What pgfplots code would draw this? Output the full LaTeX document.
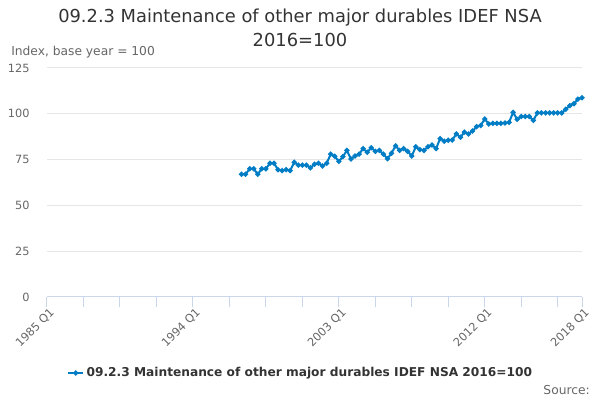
\documentclass[border=0pt]{standalone}
\usepackage{pgfplots}
\pgfplotsset{compat=1.18}
\usepackage{fontspec}
\setmainfont{DejaVu Sans}
\definecolor{linecol}{RGB}{0,125,196}
\definecolor{gridcol}{RGB}{230,230,230}
\definecolor{axcol}{RGB}{204,214,235}
\definecolor{txt}{RGB}{51,51,51}
\definecolor{lbl}{RGB}{102,102,102}
\pgfplotstableread{
x y
48 67
49 67
50 70
51 70
52 67
53 70
54 70
55 73
56 73
57 69.5
58 69
59 69.5
60 69
61 73.5
62 72
63 72
64 72
65 70.5
66 72.5
67 73
68 71.5
69 73
70 78
71 76.8
72 74
73 76.6
74 80
75 75.3
76 77
77 78
78 81
79 79
80 81.5
81 79.5
82 80
83 78
84 75.5
85 78.5
86 82.5
87 80
88 81
89 79.5
90 77
91 82
92 80.5
93 80
94 82
95 83
96 81
97 86.5
98 85
99 85.5
100 85.7
101 89
102 87.2
103 90
104 89
105 90.6
106 93
107 93.6
108 97.2
109 94.4
110 94.8
111 94.8
112 94.8
113 95
114 95.3
115 100.8
116 97
117 98.5
118 98.5
119 98.5
120 96.4
121 100.5
122 100.5
123 100.5
124 100.5
125 100.5
126 100.5
127 100.5
128 102.5
129 104.5
130 105.5
131 108
132 108.8
}\datatable
\begin{document}
\begin{tikzpicture}
\path[use as bounding box] (0,0) rectangle (450pt,300pt);
\node[font=\fontsize{13.4}{16}\selectfont, text=txt] at (225pt,286.5pt) {09.2.3 Maintenance of other major durables IDEF NSA};
\node[font=\fontsize{13.4}{16}\selectfont, text=txt] at (225pt,270pt) {2016=100};
\node[font=\fontsize{9.2}{11}\selectfont, text=lbl, anchor=west, inner sep=0pt] at (8.25pt,261pt) {Index, base year = 100};
\node[font=\fontsize{9.2}{11}\selectfont, text=lbl, anchor=east, inner sep=0pt] at (442.5pt,7.5pt) {Source:};
\begin{axis}[
  at={(35.25pt,77.25pt)}, anchor=south west,
  scale only axis, width=401.25pt, height=171.75pt,
  xmin=0, xmax=132, ymin=0, ymax=125,
  axis x line*=bottom, axis y line*=left,
  y axis line style={draw=none},
  x axis line style={draw=axcol, line width=0.75pt},
  xtick={0,36,72,108,132},
  xticklabels={1985 Q1,1994 Q1,2003 Q1,2012 Q1,2018 Q1},
  minor xtick={9,18,27,45,54,63,81,90,99,117,126},
  ytick={0,25,...,125},
  ymajorgrids, grid style={draw=gridcol, line width=0.75pt},
  major x tick style={draw=axcol, line width=0.75pt},
  minor x tick style={draw=axcol, line width=0.75pt},
  major y tick style={draw=none},
  tick align=outside,
  major tick length=7.5pt, minor tick length=7.5pt,
  x tick label style={rotate=45, anchor=north east, font=\fontsize{8.5}{10}\selectfont, text=lbl, inner sep=1pt, xshift=2pt},
  y tick label style={font=\fontsize{8.5}{10}\selectfont, text=lbl, anchor=east, xshift=-2pt},
  /pgf/number format/assume math mode=true,
  legend style={at={(0.475,-0.332)}, anchor=center, draw=none, fill=none,
    font=\bfseries\fontsize{9.15}{11}\selectfont, text=txt},
  legend image code/.code={\draw[mark repeat=2,mark phase=2,#1] plot coordinates {(0cm,0cm) (0.19cm,0cm) (0.38cm,0cm)};},
]
\addplot[color=linecol, line width=1.5pt, mark=*, mark size=1.1pt, mark options={solid}] table[x=x,y=y] {\datatable};
\addlegendentry{09.2.3 Maintenance of other major durables IDEF NSA 2016=100}
\end{axis}
\end{tikzpicture}
\end{document}
